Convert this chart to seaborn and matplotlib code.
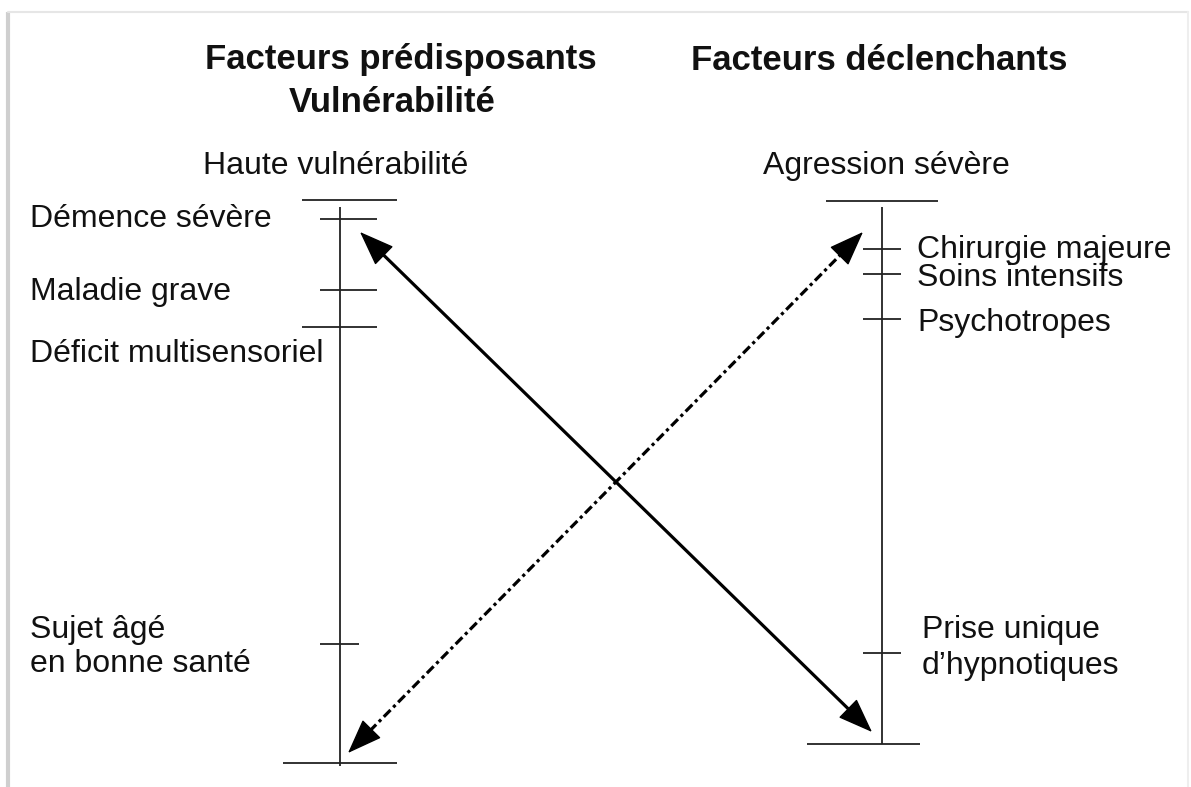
import matplotlib
matplotlib.use("Agg")
import matplotlib.pyplot as plt
import seaborn as sns

# Positions (pixel-like units, y grows downwards)
left_labels = ["Démence sévère", "Maladie grave", "Déficit multisensoriel", "Sujet âgé\nen bonne santé"]
left_ticks = [219, 290, 327, 644]
left_label_y = [219, 292, 354, 647]

right_labels = ["Chirurgie majeure", "Soins intensifs", "Psychotropes", "Prise unique\nd\u2019hypnotiques"]
right_ticks = [249, 274, 319, 653]
right_label_y = [250, 278, 323, 648]

left_top, left_bottom = 200, 763
right_top, right_bottom = 201, 744

sns.set_theme(style="white")
plt.rcParams["font.family"] = ["Liberation Sans", "DejaVu Sans"]

fig = plt.figure(figsize=(11.91, 7.87), dpi=100)
ax = fig.add_axes([0, 0, 1, 1])
ax.set_xlim(0, 1191)
ax.set_ylim(787, 0)
ax.axis("off")

# faint frame like the screenshot border
ax.plot([8, 8], [12, 787], color="#cfcfcf", lw=3, solid_capstyle="butt")
ax.plot([8, 1188], [12, 12], color="#e6e6e6", lw=1.5)
ax.plot([1188, 1188], [12, 787], color="#eeeeee", lw=1.5)

lc = "#222222"
# left scale
ax.vlines(340, 207, 766, color=lc, lw=1.3)
ax.hlines(left_top, 302, 397, color=lc, lw=1.3)
ax.hlines(left_bottom, 283, 397, color=lc, lw=1.3)
left_x0 = [320, 320, 302, 320]
left_x1 = [377, 377, 377, 359]
for y, x0, x1 in zip(left_ticks, left_x0, left_x1):
    ax.hlines(y, x0, x1, color=lc, lw=1.3)

# right scale
ax.vlines(882, 207, 744, color=lc, lw=1.3)
ax.hlines(right_top, 826, 938, color=lc, lw=1.3)
ax.hlines(right_bottom, 807, 920, color=lc, lw=1.3)
for y in right_ticks:
    ax.hlines(y, 863, 901, color=lc, lw=1.3)

fs = 23
tc = "#111111"
for lab, y in zip(left_labels, left_label_y):
    ax.text(30, y, lab, fontsize=fs, ha="left", va="center", color=tc, linespacing=1.17)
for i, (lab, y) in enumerate(zip(right_labels, right_label_y)):
    x = 922 if i == 3 else 917
    ax.text(x, y, lab, fontsize=fs, ha="left", va="center", color=tc, linespacing=1.22)

# headers
bfs = 25
ax.text(401, 60, "Facteurs prédisposants", fontsize=bfs, fontweight="bold", ha="center", va="center", color=tc)
ax.text(392, 102, "Vulnérabilité", fontsize=bfs, fontweight="bold", ha="center", va="center", color=tc)
ax.text(879, 60, "Facteurs déclenchants", fontsize=bfs, fontweight="bold", ha="center", va="center", color=tc)
ax.text(336, 166, "Haute vulnérabilité", fontsize=fs, ha="center", va="center", color=tc)
ax.text(886, 166, "Agression sévère", fontsize=fs, ha="center", va="center", color=tc)

head = "-|>,head_length=1.6,head_width=0.6"


def arrow_with_heads(p0, p1, ls):
    # line body, then solid heads at both ends
    dx, dy = p1[0] - p0[0], p1[1] - p0[1]
    n = (dx ** 2 + dy ** 2) ** 0.5
    ux, uy = dx / n, dy / n
    ax.plot([p0[0] + 10 * ux, p1[0] - 10 * ux], [p0[1] + 10 * uy, p1[1] - 10 * uy],
            color="black", lw=2.3, linestyle=ls)
    for tip, s in ((p1, 1), (p0, -1)):
        back = (tip[0] - s * 30 * ux, tip[1] - s * 30 * uy)
        ax.annotate("", xy=tip, xytext=back,
                    arrowprops=dict(arrowstyle=head, color="black", lw=1.0,
                                    shrinkA=0, shrinkB=0, mutation_scale=14))


arrow_with_heads((360, 232), (872, 732), "-")
arrow_with_heads((348, 753), (863, 232), (0, (3, 1.2, 1, 1.2)))

fig.savefig("out.png", dpi=100, facecolor="white")
